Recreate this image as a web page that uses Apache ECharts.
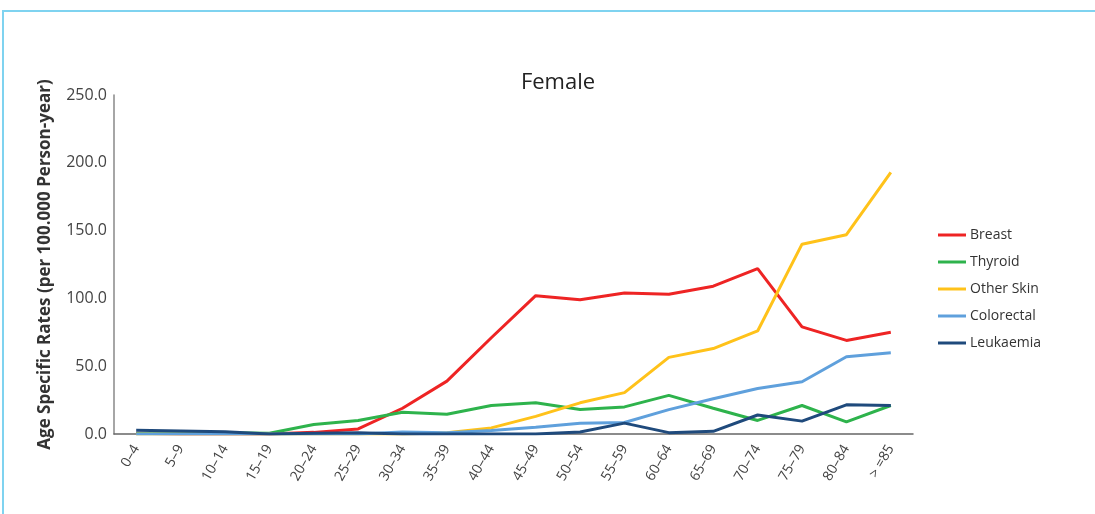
<!DOCTYPE html>
<html>
<head>
<meta charset="utf-8">
<script src="https://cdn.jsdelivr.net/npm/echarts@6/dist/echarts.min.js"></script>
<style>
  html, body { margin: 0; padding: 0; background: #fff; }
  #chart { width: 1095px; height: 514px; }
</style>
</head>
<body>
<div id="chart"></div>
<script>
// 年龄组 (x轴)
var ageGroups = ['0–4', '5–9', '10–14', '15–19', '20–24', '25–29', '30–34', '35–39', '40–44',
  '45–49', '50–54', '55–59', '60–64', '65–69', '70–74', '75–79', '80–84', '> =85'];
var yTicks = [0, 50, 100, 150, 200, 250];

// 各癌种的年龄别发病率
var breast     = [0.5, 0, 0, 0, 1.2, 3.7, 19, 39, 71, 102, 99, 104, 103, 109, 122, 79, 69, 75];
var thyroid    = [0.3, 0.5, 1, 0.5, 7, 10, 16, 14.5, 21, 23, 18, 20, 28.5, 19, 10, 21, 9, 21];
var otherSkin  = [0, 0, 0, 0, 0, 0, 0, 1, 4.5, 13, 23, 30.5, 56.5, 63, 76, 140, 147, 193];
var colorectal = [0, 0, 0, 0, 0, 0, 1.5, 1, 2.5, 5, 8, 8.5, 18, 26, 33.5, 38.5, 57, 60];
var leukaemia  = [2.8, 2.2, 1.6, 0, 0.5, 1, 0, 0, 0, 0, 1.5, 8, 1, 2, 14, 9.5, 21.5, 21];

(function () {
  var chart = echarts.init(document.getElementById('chart'));
  var font = '"Open Sans", "Noto Sans", sans-serif';

  function line(name, data, color) {
    return {
      name: name,
      type: 'line',
      data: data,
      symbol: 'none',
      lineStyle: { width: 3, color: color },
      itemStyle: { color: color }
    };
  }

  var option = {
    backgroundColor: '#fff',
    animation: false,
    textStyle: { fontFamily: font },
    graphic: [{
      type: 'rect',
      shape: { x: 3, y: 11, width: 1200, height: 600 },
      style: { fill: 'none', stroke: '#7fd3f0', lineWidth: 2 },
      silent: true
    }],
    title: {
      text: 'Female',
      left: 553,
      top: 67,
      textAlign: 'center',
      textStyle: { fontSize: 22, fontWeight: 'normal', color: '#222', fontFamily: font }
    },
    legend: {
      orient: 'vertical',
      left: 933,
      top: 223,
      itemGap: 13,
      itemWidth: 28,
      itemHeight: 3,
      icon: 'rect',
      textStyle: { fontSize: 14, color: '#333', fontFamily: font, padding: [0, 0, 0, -1] },
      data: ['Breast', 'Thyroid', 'Other Skin', 'Colorectal', 'Leukaemia']
    },
    grid: { left: 114, right: 182, top: 95, bottom: 80, containLabel: false },
    xAxis: {
      type: 'category',
      data: ageGroups,
      boundaryGap: true,
      axisLine: { lineStyle: { color: '#666', width: 1.5 } },
      axisTick: { show: false },
      axisLabel: { rotate: 60, fontSize: 14, color: '#444', margin: 12, interval: 0, fontFamily: font }
    },
    yAxis: {
      type: 'value',
      min: yTicks[0],
      max: yTicks[yTicks.length - 1],
      interval: 50,
      name: 'Age Specific Rates (per 100.000 Person-year)',
      nameLocation: 'middle',
      nameGap: 60,
      nameTextStyle: { fontSize: 17, fontWeight: 'bold', color: '#333', fontFamily: font },
      axisLine: { show: true, lineStyle: { color: '#888', width: 1.5 } },
      axisTick: { show: false },
      splitLine: { show: false },
      axisLabel: {
        fontSize: 16, color: '#444', margin: 7, fontFamily: font,
        formatter: function (v) { return v.toFixed(1); }
      }
    },
    series: [
      line('Breast', breast, '#ee2424'),
      line('Thyroid', thyroid, '#2eb34c'),
      line('Other Skin', otherSkin, '#ffc21a'),
      line('Colorectal', colorectal, '#5fa0dc'),
      line('Leukaemia', leukaemia, '#1f4a7c')
    ]
  };
  chart.setOption(option);
})();
</script>
</body>
</html>
